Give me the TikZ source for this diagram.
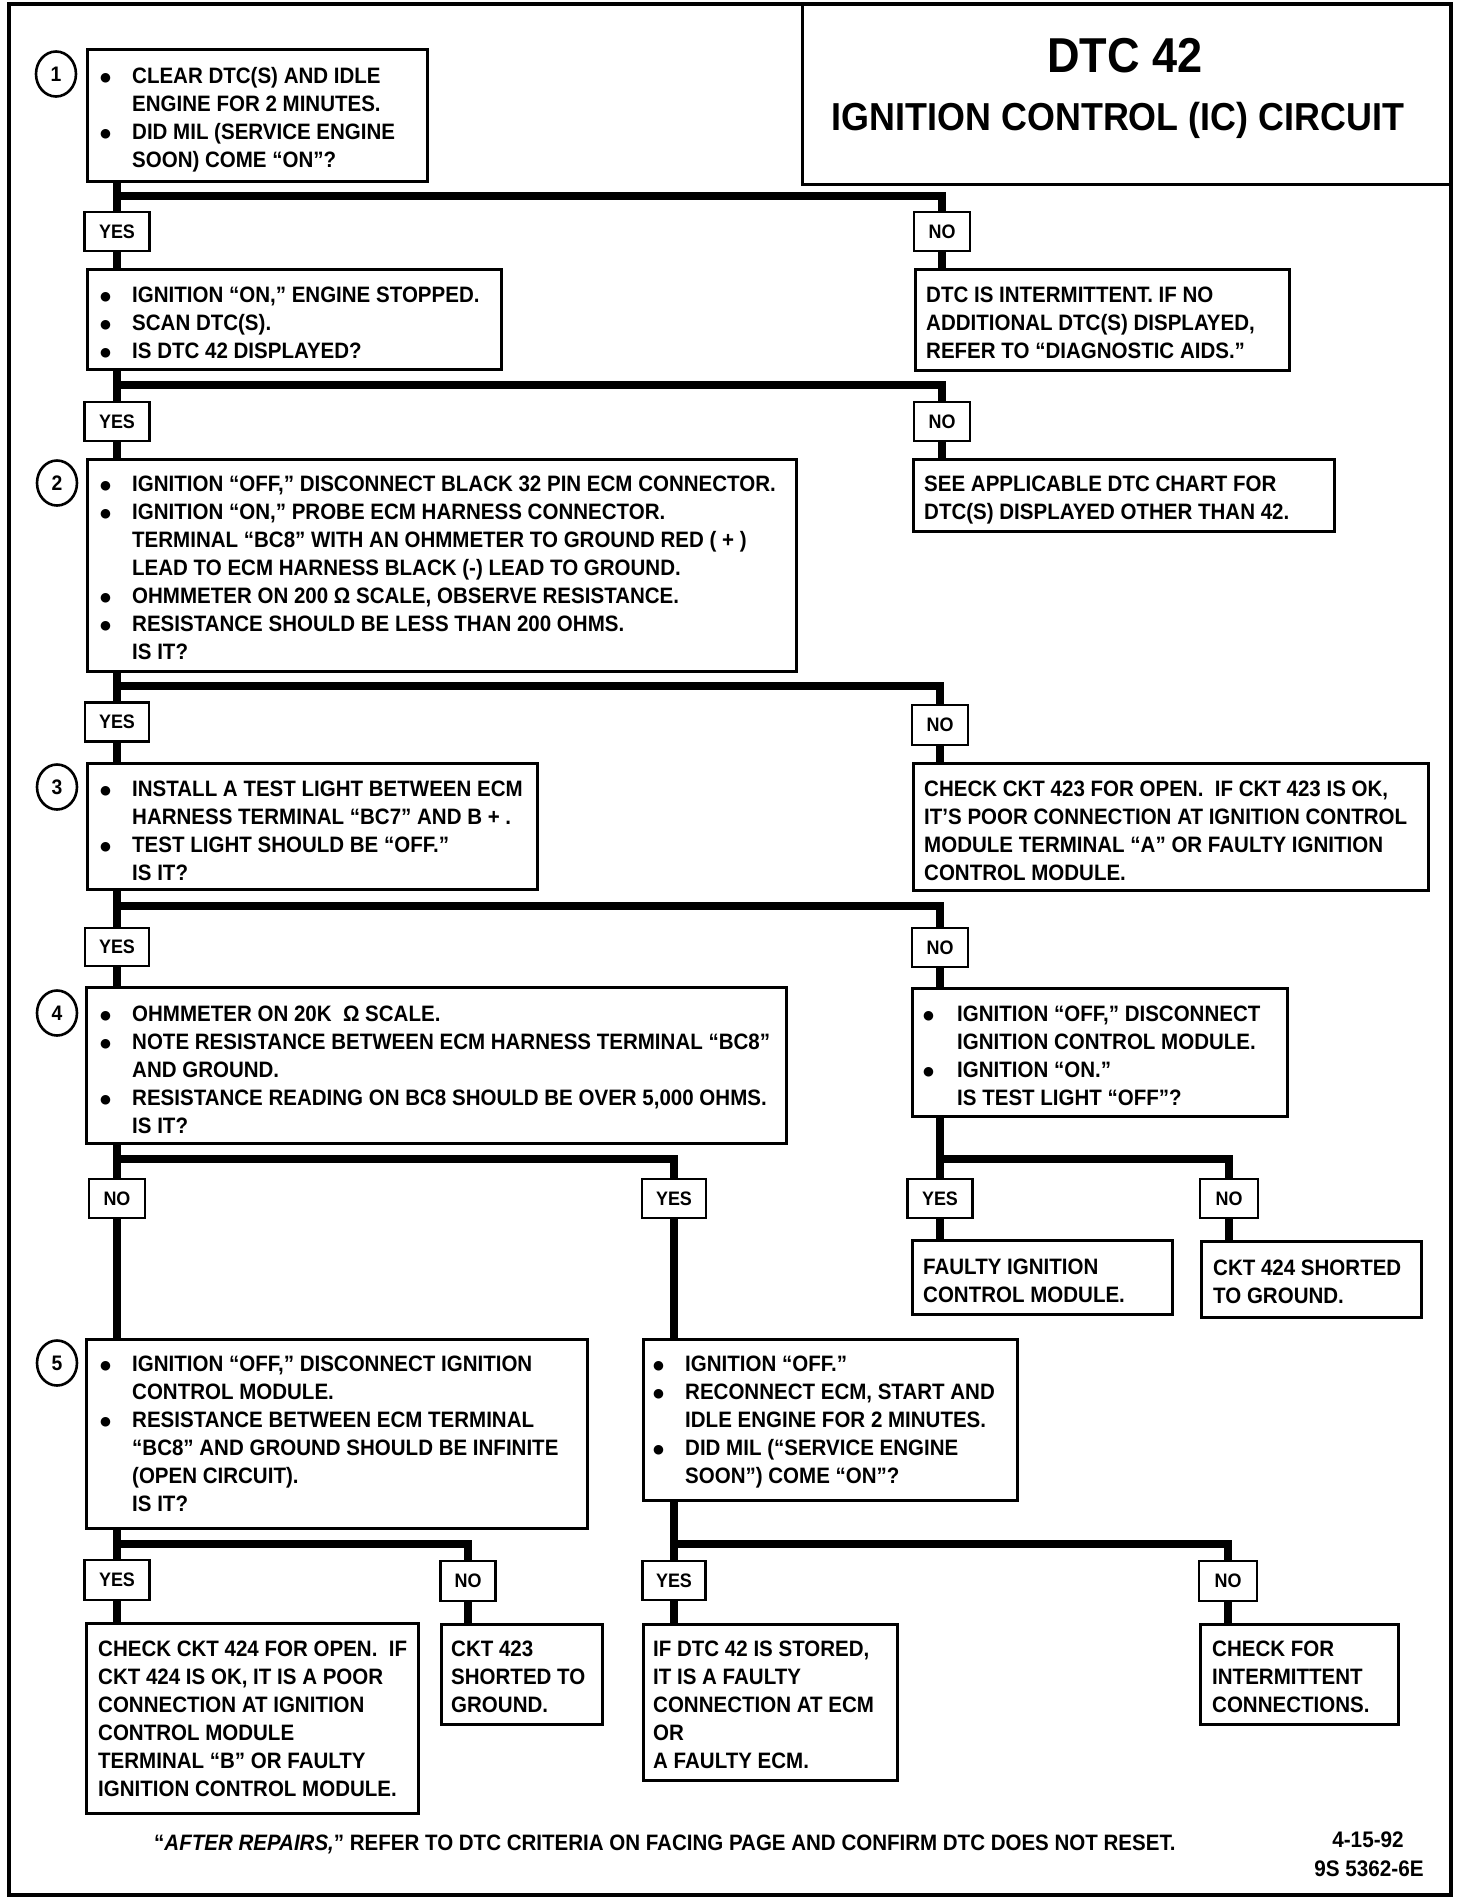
\documentclass[tikz,border=0pt]{standalone}
\usepackage{fontspec}
\usepackage{graphicx}
\usetikzlibrary{shapes.geometric}
\newfontfamily\bodyff{Liberation Sans}[FakeStretch=0.92]
\newfontfamily\symff{DejaVu Sans}
\newcommand\bodyfont{\bodyff\bfseries\fontsize{22.3}{28}\selectfont}
\newcommand\lblfont{\bodyff\bfseries\fontsize{19.5}{22}\selectfont}
\newcommand\datefont{\bodyff\bfseries\fontsize{22.5}{24}\selectfont}
\newcommand\numfont{\bodyff\bfseries\fontsize{21}{22}\selectfont}
\newcommand\bdot{\raisebox{2.2pt}{\symff\fontsize{12.5}{13}\selectfont ●}}
\newcommand\bl{\makebox[32pt][l]{\bdot}}
\newcommand\blw{\makebox[34pt][l]{\bdot}}
\newcommand\ind{\hspace*{32pt}}
\newcommand\indw{\hspace*{34pt}}
\newcommand\fst{\rule{0pt}{20pt}}
\begin{document}
\begin{tikzpicture}[x=1pt,y=-1pt,
  box/.style={draw, line width=2.6pt, anchor=north west, inner sep=0pt},
  lbl/.style={draw, line width=2.6pt, inner sep=0pt, font=\lblfont},
  conn/.style={line width=7.5pt},
  txt/.style={anchor=north west, inner sep=0pt, align=left, font=\bodyfont},
  num/.style={draw, ellipse, line width=2.6pt, minimum width=40pt, minimum height=45pt, inner sep=0pt, font=\numfont}]
\fill[white] (0,0) rectangle (1472,1898);
\useasboundingbox (0,0) rectangle (1472,1898);
% frame and title
\node[box, line width=4pt, minimum width=1442pt, minimum height=1891pt] (frame) at (7,2) {};
\node[box, minimum width=648pt, minimum height=181pt] (title) at (801,2) {};
\node[anchor=base, inner sep=0pt, font=\bodyff\bfseries\fontsize{49}{50}\selectfont] (tt1) at (1125,72) {DTC 42};
\node[anchor=base, inner sep=0pt, font=\bodyff\bfseries\fontsize{39}{40}\selectfont] (tt2) at (1118,130) {IGNITION CONTROL (IC) CIRCUIT};
% boxes
\node[box, minimum width=340pt, minimum height=132pt] (s1) at (86,48) {};
\node[box, minimum width=414pt, minimum height=100pt] (r1) at (86,268) {};
\node[box, minimum width=374pt, minimum height=101pt] (r1n) at (914,268) {};
\node[box, minimum width=709pt, minimum height=212pt] (s2) at (86,458) {};
\node[box, minimum width=421pt, minimum height=72pt] (r2n) at (912,458) {};
\node[box, minimum width=450pt, minimum height=126pt] (s3) at (86,762) {};
\node[box, minimum width=515pt, minimum height=127pt] (r3n) at (912,762) {};
\node[box, minimum width=700pt, minimum height=156pt] (s4) at (85,986) {};
\node[box, minimum width=375pt, minimum height=128pt] (r4n) at (911,987) {};
\node[box, minimum width=260pt, minimum height=74pt] (r5y) at (911,1239) {};
\node[box, minimum width=220pt, minimum height=76pt] (r5n) at (1200,1240) {};
\node[box, minimum width=501pt, minimum height=189pt] (s5) at (85,1338) {};
\node[box, minimum width=374pt, minimum height=161pt] (r6y) at (642,1338) {};
\node[box, minimum width=332pt, minimum height=190pt] (r7y) at (85,1622) {};
\node[box, minimum width=161pt, minimum height=100pt] (r7n) at (440,1623) {};
\node[box, minimum width=254pt, minimum height=156pt] (r8y) at (642,1623) {};
\node[box, minimum width=198pt, minimum height=100pt] (r8n) at (1199,1623) {};
% step numbers
\node[num] (c1) at (56,74) {1};
\node[num] (c2) at (57,483) {2};
\node[num] (c3) at (57,787) {3};
\node[num] (c4) at (57,1013) {4};
\node[num] (c5) at (57,1363) {5};
% labels
\node[lbl, minimum width=65pt, minimum height=39pt] (y1) at (117,231.5) {YES};
\node[lbl, minimum width=56pt, minimum height=39pt] (n1) at (942,231.5) {NO};
\node[lbl, minimum width=65pt, minimum height=39pt] (y2) at (117,421.5) {YES};
\node[lbl, minimum width=56pt, minimum height=39pt] (n2) at (942,421.5) {NO};
\node[lbl, minimum width=64pt, minimum height=39pt] (y3) at (117,722) {YES};
\node[lbl, minimum width=56pt, minimum height=40pt] (n3) at (940,725) {NO};
\node[lbl, minimum width=64pt, minimum height=38pt] (y4) at (117,947) {YES};
\node[lbl, minimum width=56pt, minimum height=39pt] (n4) at (940,947.5) {NO};
\node[lbl, minimum width=56pt, minimum height=39pt] (n6) at (117,1198.5) {NO};
\node[lbl, minimum width=64pt, minimum height=39pt] (y6) at (674,1198.5) {YES};
\node[lbl, minimum width=65pt, minimum height=39pt] (y5) at (940,1198.5) {YES};
\node[lbl, minimum width=58pt, minimum height=39pt] (n5) at (1229,1198.5) {NO};
\node[lbl, minimum width=65pt, minimum height=40pt] (y7) at (117,1580) {YES};
\node[lbl, minimum width=55pt, minimum height=40pt] (n7) at (468,1581) {NO};
\node[lbl, minimum width=63pt, minimum height=39pt] (y8) at (674,1580.5) {YES};
\node[lbl, minimum width=58pt, minimum height=40pt] (n8) at (1228,1581) {NO};
% junctions
\coordinate (j1) at (117,196);
\coordinate (j2) at (117,385);
\coordinate (j3) at (117,686);
\coordinate (j4) at (117,906);
\coordinate (j5) at (117,1159);
\coordinate (j6) at (940,1159);
\coordinate (j7) at (117,1544);
\coordinate (j8) at (674,1544);
% connectors
\draw[conn] (s1.south -| y1) -- (y1.north);
\draw[conn] (y1.south) -- (y1.south |- r1.north);
\draw[conn] (j1) -| (n1.north);
\draw[conn] (n1.south) -- (n1.south |- r1n.north);
\draw[conn] (r1.south -| y2) -- (y2.north);
\draw[conn] (y2.south) -- (y2.south |- s2.north);
\draw[conn] (j2) -| (n2.north);
\draw[conn] (n2.south) -- (n2.south |- r2n.north);
\draw[conn] (s2.south -| y3) -- (y3.north);
\draw[conn] (y3.south) -- (y3.south |- s3.north);
\draw[conn] (j3) -| (n3.north);
\draw[conn] (n3.south) -- (n3.south |- r3n.north);
\draw[conn] (s3.south -| y4) -- (y4.north);
\draw[conn] (y4.south) -- (y4.south |- s4.north);
\draw[conn] (j4) -| (n4.north);
\draw[conn] (n4.south) -- (n4.south |- r4n.north);
\draw[conn] (s4.south -| n6) -- (n6.north);
\draw[conn] (n6.south) -- (n6.south |- s5.north);
\draw[conn] (j5) -| (y6.north);
\draw[conn] (y6.south) -- (y6.south |- r6y.north);
\draw[conn] (r4n.south -| y5) -- (y5.north);
\draw[conn] (y5.south) -- (y5.south |- r5y.north);
\draw[conn] (j6) -| (n5.north);
\draw[conn] (n5.south) -- (n5.south |- r5n.north);
\draw[conn] (s5.south -| y7) -- (y7.north);
\draw[conn] (y7.south) -- (y7.south |- r7y.north);
\draw[conn] (j7) -| (n7.north);
\draw[conn] (n7.south) -- (n7.south |- r7n.north);
\draw[conn] (r6y.south -| y8) -- (y8.north);
\draw[conn] (y8.south) -- (y8.south |- r8y.north);
\draw[conn] (j8) -| (n8.north);
\draw[conn] (n8.south) -- (n8.south |- r8n.north);
% texts
\node[txt] (t1) at (100,63) {\fst\bl CLEAR DTC(S) AND IDLE\\ \ind ENGINE FOR 2 MINUTES.\\ \bl DID MIL (SERVICE ENGINE\\ \ind SOON) COME “ON”?};
\node[txt] (tr1) at (100,282) {\fst\bl IGNITION “ON,” ENGINE STOPPED.\\ \bl SCAN DTC(S).\\ \bl IS DTC 42 DISPLAYED?};
\node[txt] (tr1n) at (926,282) {\fst DTC IS INTERMITTENT. IF NO\\ ADDITIONAL DTC(S) DISPLAYED,\\ REFER TO “DIAGNOSTIC AIDS.”};
\node[txt] (t2) at (100,471) {\fst\bl IGNITION “OFF,” DISCONNECT BLACK 32 PIN ECM CONNECTOR.\\ \bl IGNITION “ON,” PROBE ECM HARNESS CONNECTOR.\\ \ind TERMINAL “BC8” WITH AN OHMMETER TO GROUND RED ( + )\\ \ind LEAD TO ECM HARNESS BLACK (-) LEAD TO GROUND.\\ \bl OHMMETER ON 200 Ω SCALE, OBSERVE RESISTANCE.\\ \bl RESISTANCE SHOULD BE LESS THAN 200 OHMS.\\ \ind IS IT?};
\node[txt] (tr2n) at (924,471) {\fst SEE APPLICABLE DTC CHART FOR\\ DTC(S) DISPLAYED OTHER THAN 42.};
\node[txt] (t3) at (100,776) {\fst\bl INSTALL A TEST LIGHT BETWEEN ECM\\ \ind HARNESS TERMINAL “BC7” AND B + .\\ \bl TEST LIGHT SHOULD BE “OFF.”\\ \ind IS IT?};
\node[txt] (tr3n) at (924,776) {\fst CHECK CKT 423 FOR OPEN.\ \ IF CKT 423 IS OK,\\ IT’S POOR CONNECTION AT IGNITION CONTROL\\ MODULE TERMINAL “A” OR FAULTY IGNITION\\ CONTROL MODULE.};
\node[txt] (t4) at (100,1001) {\fst\bl OHMMETER ON 20K\ \ Ω SCALE.\\ \bl NOTE RESISTANCE BETWEEN ECM HARNESS TERMINAL “BC8”\\ \ind AND GROUND.\\ \bl RESISTANCE READING ON BC8 SHOULD BE OVER 5,000 OHMS.\\ \ind IS IT?};
\node[txt] (tr4n) at (923,1001) {\fst\blw IGNITION “OFF,” DISCONNECT\\ \indw IGNITION CONTROL MODULE.\\ \blw IGNITION “ON.”\\ \indw IS TEST LIGHT “OFF”?};
\node[txt] (tr5y) at (923,1254) {\fst FAULTY IGNITION\\ CONTROL MODULE.};
\node[txt] (tr5n) at (1213,1255) {\fst CKT 424 SHORTED\\ TO GROUND.};
\node[txt] (t5) at (100,1351) {\fst\bl IGNITION “OFF,” DISCONNECT IGNITION\\ \ind CONTROL MODULE.\\ \bl RESISTANCE BETWEEN ECM TERMINAL\\ \ind “BC8” AND GROUND SHOULD BE INFINITE\\ \ind (OPEN CIRCUIT).\\ \ind IS IT?};
\node[txt] (tr6y) at (653,1351) {\fst\bl IGNITION “OFF.”\\ \bl RECONNECT ECM, START AND\\ \ind IDLE ENGINE FOR 2 MINUTES.\\ \bl DID MIL (“SERVICE ENGINE\\ \ind SOON”) COME “ON”?};
\node[txt] (tr7y) at (98,1636) {\fst CHECK CKT 424 FOR OPEN.\ \ IF\\ CKT 424 IS OK, IT IS A POOR\\ CONNECTION AT IGNITION\\ CONTROL MODULE\\ TERMINAL “B” OR FAULTY\\ IGNITION CONTROL MODULE.};
\node[txt] (tr7n) at (451,1636) {\fst CKT 423\\ SHORTED TO\\ GROUND.};
\node[txt] (tr8y) at (653,1636) {\fst IF DTC 42 IS STORED,\\ IT IS A FAULTY\\ CONNECTION AT ECM\\ OR\\ A FAULTY ECM.};
\node[txt] (tr8n) at (1212,1636) {\fst CHECK FOR\\ INTERMITTENT\\ CONNECTIONS.};
% footer
\node[anchor=base west, inner sep=0pt, font=\bodyfont] (foot) at (154,1850) {“\textit{AFTER REPAIRS,}” REFER TO DTC CRITERIA ON FACING PAGE AND CONFIRM DTC DOES NOT RESET.};
\node[anchor=base, inner sep=0pt, font=\datefont] (d1) at (1368,1847) {4-15-92};
\node[anchor=base, inner sep=0pt, font=\datefont] (d2) at (1369,1876) {9S 5362-6E};
\end{tikzpicture}
\end{document}
